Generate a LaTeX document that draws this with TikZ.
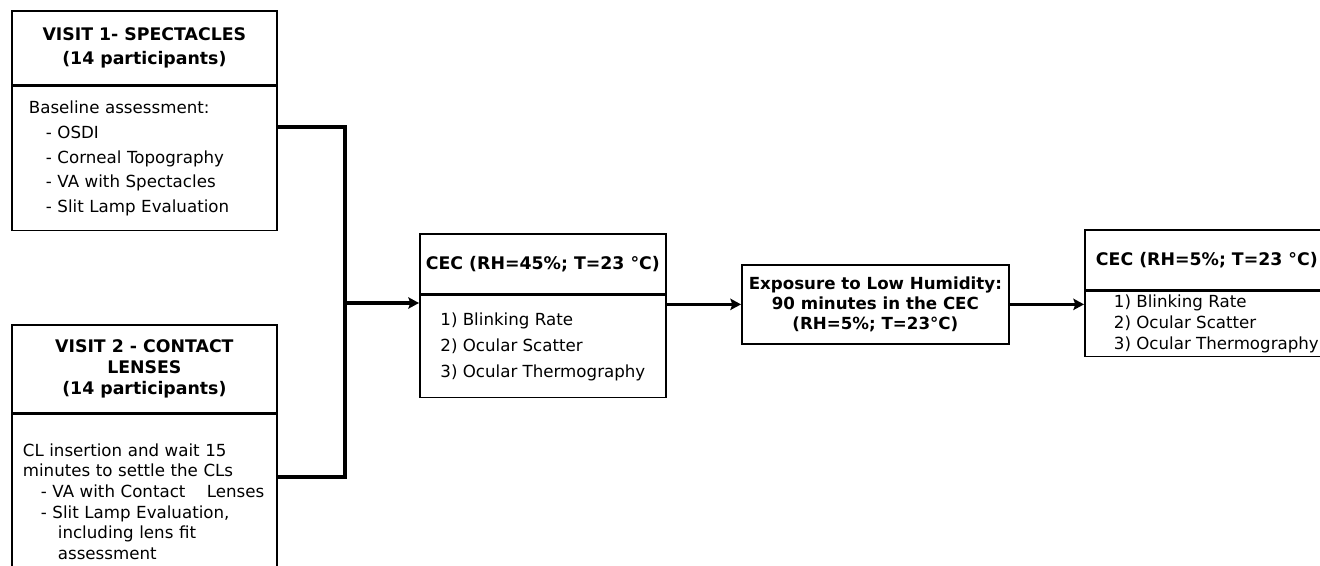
\documentclass[tikz,border=0pt]{standalone}
\usepackage{fontspec}
\setmainfont{DejaVu Sans}
\usetikzlibrary{arrows.meta, positioning, calc}

\newcommand{\indentstep}{\hspace*{12.75pt}}

\begin{document}
\begin{tikzpicture}[x=0.75pt, y=-0.75pt, >={Stealth[length=8pt, width=8.5pt, inset=1.5pt]},
    box/.style={draw, line width=1.3pt, rectangle, inner sep=0pt, anchor=north west},
    headbox/.style={box, font=\fontsize{13}{18}\selectfont\bfseries, align=center},
    bodybox/.style={box, font=\fontsize{12.5}{18.5}\selectfont, align=left},
    link/.style={line width=2.6pt}]
    \useasboundingbox (0,0) rectangle (1320,566);
    \clip (0,0) rectangle (1320,566);

    % visit 1
    \node[headbox, minimum width=198.75pt, minimum height=55.5pt] (v1head) at (11,10) {VISIT 1- SPECTACLES\\(14 participants)};
    \node[bodybox, below=0pt of v1head, minimum height=108pt, inner xsep=12.75pt, text width=173.25pt] (v1body)
        {Baseline assessment:\\
         \indentstep- OSDI\\
         \indentstep- Corneal Topography\\
         \indentstep- VA with Spectacles\\
         \indentstep- Slit Lamp Evaluation};

    % visit 2
    \node[headbox, minimum width=198.75pt, minimum height=66pt, font=\fontsize{13}{15.4}\selectfont\bfseries] (v2head) at (11,324) {VISIT 2 - CONTACT\\LENSES\\(14 participants)};
    \node[bodybox, below=0pt of v2head, minimum height=130.5pt, inner xsep=8.25pt, text width=182.25pt, font=\fontsize{12.5}{15.5}\selectfont] (v2body)
        {CL insertion and wait 15\\
         minutes to settle the CLs\\
         \hspace*{13.5pt}- VA with Contact\hspace{16pt}Lenses\\
         \hspace*{13.5pt}- Slit Lamp Evaluation,\\
         \hspace*{26.25pt}including lens fit\\
         \hspace*{26.25pt}assessment};

    % CEC at normal humidity
    \node[headbox, minimum width=184.5pt, minimum height=45pt] (cec1head) at (419,233) {CEC (RH=45\%; T=23 °C)};
    \node[bodybox, below=0pt of cec1head, minimum width=184.5pt, minimum height=76.5pt, font=\fontsize{12.5}{19.5}\selectfont] (cec1body)
        {1) Blinking Rate\\
         2) Ocular Scatter\\
         3) Ocular Thermography};

    % exposure
    \node[headbox, minimum width=200.25pt, minimum height=59.25pt, font=\fontsize{12.5}{15}\selectfont\bfseries] (expo) at (741,264)
        {Exposure to Low Humidity:\\90 minutes in the CEC\\(RH=5\%; T=23°C)};

    % CEC at low humidity
    \node[headbox, minimum width=183pt, minimum height=45pt] (cec2head) at (1084,229) {CEC (RH=5\%; T=23 °C)};
    \node[bodybox, below=0pt of cec2head.south west, anchor=north west, minimum width=197.25pt, minimum height=48.75pt, font=\fontsize{12.5}{15.75}\selectfont] (cec2body)
        {1) Blinking Rate\\
         2) Ocular Scatter\\
         3) Ocular Thermography};

    % connectors
    \coordinate (jtop) at (345,127);
    \coordinate (jbot) at (345,477);
    \coordinate (jmid) at (345,303);
    \draw[link, line join=miter] (v1body.east |- jtop) -- (jtop) -- (jbot) -- (v2body.east |- jbot);
    \draw[link, ->] (jmid) -- (cec1body.west |- jmid);
    \draw[link, ->] (cec1body.east |- expo.west) -- (expo.west);
    \draw[link, ->] (expo.east) -- (cec2body.west |- expo.east);
\end{tikzpicture}
\end{document}
